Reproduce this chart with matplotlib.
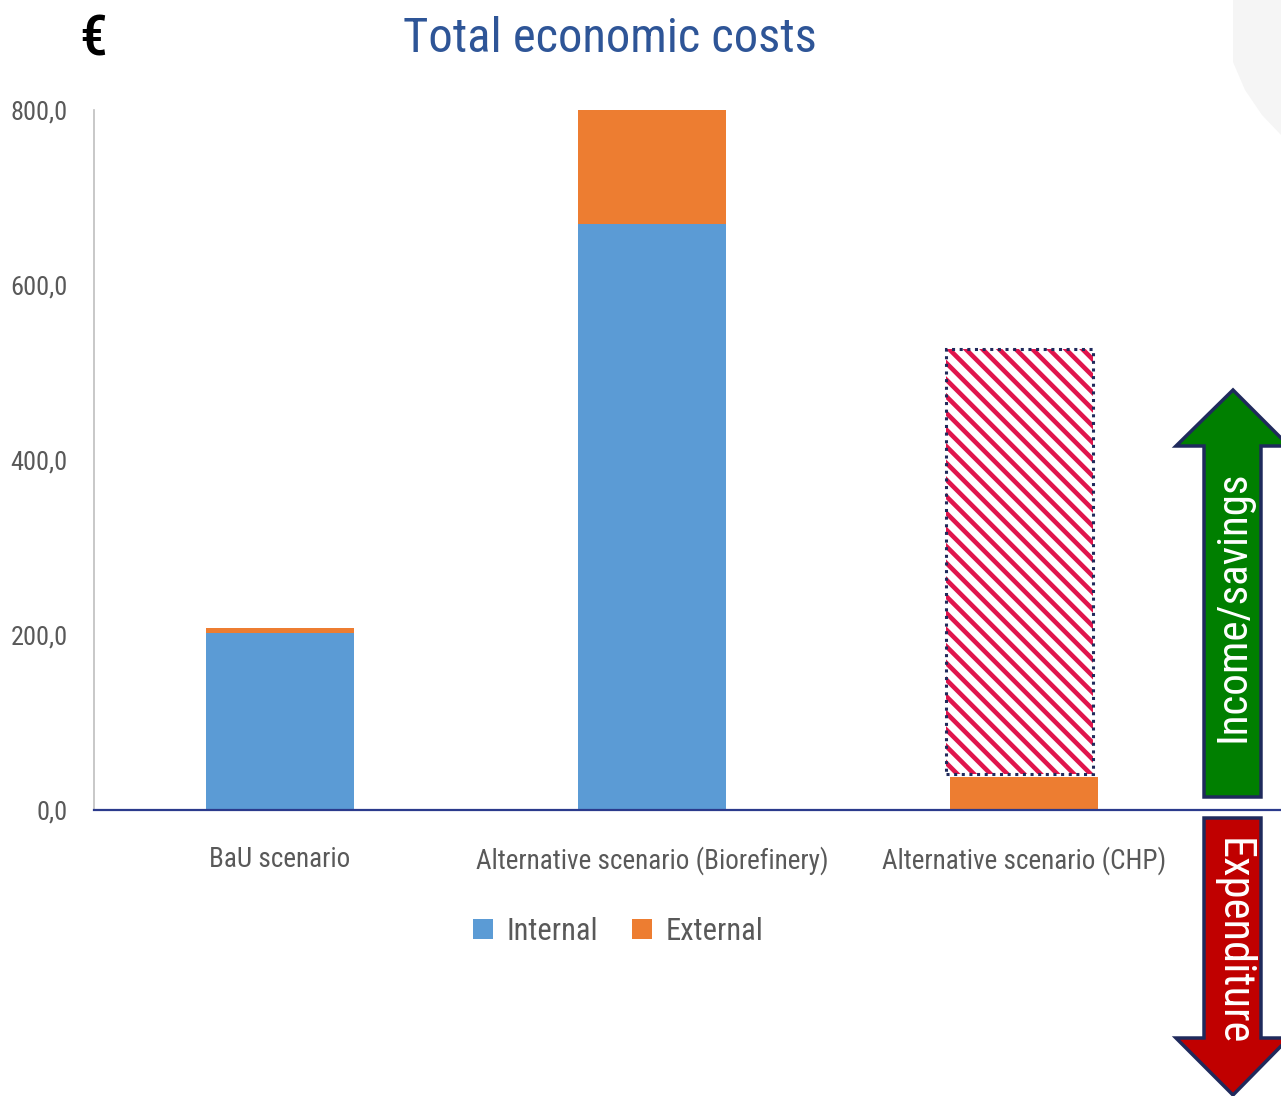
import matplotlib
matplotlib.use("Agg")
import matplotlib.pyplot as plt
from matplotlib.patches import Polygon, Patch
from matplotlib import font_manager

# ---- data ----
categories = ["BaU scenario", "Alternative scenario (Biorefinery)", "Alternative scenario (CHP)"]
internal = [202, 670, 0]
external = [6, 130, 38]
chp_savings_bottom = 41
chp_savings_top = 527
yticks = [0, 200, 400, 600, 800]
ytick_labels = ["0,0", "200,0", "400,0", "600,0", "800,0"]
title = "Total economic costs"

# ---- fonts ----
avail = {f.name for f in font_manager.fontManager.ttflist}
fam = [f for f in ["Roboto Condensed", "Liberation Sans Narrow", "DejaVu Sans Condensed", "DejaVu Sans"] if f in avail]
plt.rcParams['font.family'] = fam
plt.rcParams['hatch.linewidth'] = 3.3

W, H = 1281, 1096
fig = plt.figure(figsize=(W / 100, H / 100), dpi=100)


def px(x, y):
    return (x / W, 1 - y / H)


# background corner shape
bg = Polygon([px(1233, 0), px(1233, 62), px(1245, 90), px(1262, 115), px(1281, 135), px(1290, 135), px(1290, 0)],
             closed=True, transform=fig.transFigure, facecolor="#F5F5F5", edgecolor="none", zorder=0)
fig.patches.append(bg)

ax = fig.add_axes([94 / W, 286 / H, 1116 / W, 700 / H])
x = list(range(len(categories)))
blue = "#5B9BD5"
orange = "#ED7D31"
ax.bar(x, internal, width=0.4, color=blue, zorder=2)
ax.bar(x, external, width=0.4, bottom=internal, color=orange, zorder=2)

# hatched savings box for CHP
hpos = [2 - 0.011]
ax.bar(hpos, [chp_savings_top - chp_savings_bottom], bottom=[chp_savings_bottom], width=0.395,
       facecolor="white", edgecolor="#E0154C", hatch="\\\\", linewidth=0, zorder=2)
ax.bar(hpos, [chp_savings_top - chp_savings_bottom], bottom=[chp_savings_bottom], width=0.395,
       facecolor="none", edgecolor="#1F2A5C", linestyle=(0, (1, 1.5)), linewidth=2.2, zorder=3)

ax.set_xlim(-0.5, 2.5)
ax.set_ylim(0, 800)
ax.set_yticks(yticks)
ax.set_yticklabels(ytick_labels, fontsize=19, color="#595959")
ax.set_xticks(x)
ax.set_xticklabels(categories, fontsize=19.5, color="#595959")
ax.tick_params(axis='y', length=0, pad=19)
ax.tick_params(axis='x', length=0, pad=26)
for s in ["top", "right", "bottom"]:
    ax.spines[s].set_visible(False)
ax.spines["left"].set_color("#BFBFBF")
ax.spines["left"].set_linewidth(1.2)

# bottom axis line extended to right edge
fig.lines.append(plt.Line2D([94 / W, 1.0], [1 - 810 / H, 1 - 810 / H], transform=fig.transFigure,
                            color="#2B3A8C", linewidth=1.6, zorder=5))

# title and euro sign
fig.text(610 / W, 1 - 39 / H, title, ha="center", va="center", fontsize=35, color="#2E5597")
fig.text(93 / W, 1 - 40 / H, "€", ha="center", va="center", fontsize=40, color="black", weight="medium")

# legend
handles = [Patch(facecolor=blue), Patch(facecolor=orange)]
fig.legend(handles, ["Internal", "External"], loc="center", bbox_to_anchor=(618 / W, 1 - 931 / H),
           ncol=2, frameon=False, fontsize=22, handlelength=0.65, handleheight=0.65,
           handletextpad=0.45, columnspacing=1.1, labelcolor="#595959")

# arrows
navy = "#1F2A5C"
green_pts = [(1233, 390), (1289, 446), (1261, 446), (1261, 797), (1204, 797), (1204, 446), (1176, 446)]
red_pts = [(1204, 818), (1261, 818), (1261, 1038), (1289, 1038), (1233, 1095), (1176, 1038), (1204, 1038)]
fig.patches.append(Polygon([px(*p) for p in green_pts], closed=True, transform=fig.transFigure,
                           facecolor="#007F00", edgecolor=navy, linewidth=2.5, zorder=6))
fig.patches.append(Polygon([px(*p) for p in red_pts], closed=True, transform=fig.transFigure,
                           facecolor="#C00000", edgecolor=navy, linewidth=2.5, zorder=6))
fig.text(1233 / W, 1 - 606 / H, "Income/savings", rotation=90, ha="center", va="center",
         fontsize=31, color="white", zorder=7)
fig.text(1233 / W, 1 - 942 / H, "Expenditure", rotation=-90, ha="center", va="center",
         fontsize=32, color="white", zorder=7)

fig.savefig("out.png", dpi=100)
